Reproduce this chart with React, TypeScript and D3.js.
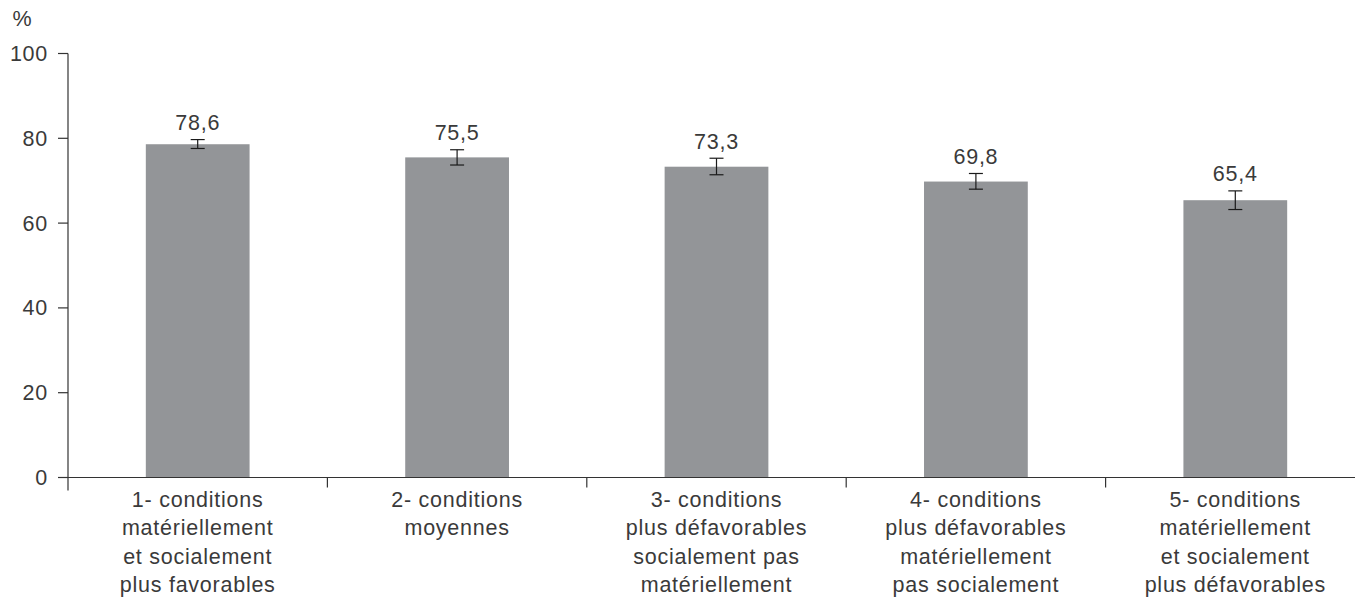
import React from "react";
import * as d3 from "d3";

const categories: string[][] = [
  ["1- conditions", "matériellement", "et socialement", "plus favorables"],
  ["2- conditions", "moyennes"],
  ["3- conditions", "plus défavorables", "socialement pas", "matériellement"],
  ["4- conditions", "plus défavorables", "matériellement", "pas socialement"],
  ["5- conditions", "matériellement", "et socialement", "plus défavorables"],
];
const values = [78.6, 75.5, 73.3, 69.8, 65.4];
const lowers = [77.6, 73.7, 71.4, 68.0, 63.2];
const uppers = [79.7, 77.3, 75.3, 71.7, 67.6];
const yTicks = [0, 20, 40, 60, 80, 100];

const W = 1355;
const H = 599;
const left = 68;
const top = 53.5;
const bottom = 477.5;
const right = 1365;
const font = "'Liberation Sans', Arial, sans-serif";
const textColor = "#3a3a3a";
const fs = 21.5;
const ls = 0.75;

export default function App() {
  const x = d3
    .scaleBand<number>()
    .domain(values.map((_, i) => i))
    .range([left, right])
    .paddingInner(0.6)
    .paddingOuter(0.3);
  const y = d3.scaleLinear().domain([0, 100]).range([bottom, top]);
  const step = x.step();
  const bw = x.bandwidth();
  const fmt = (v: number) => v.toFixed(1).replace(".", ",");

  return (
    <svg
      width={W}
      height={H}
      style={{ position: "absolute", left: 0, top: 0, background: "#fff" }}
      fontFamily={font}
    >
      <text x={22} y={26} fontSize={fs} fill={textColor} textAnchor="middle">
        %
      </text>
      {values.map((v, i) => {
        const x0 = x(i)!;
        const cx = x0 + bw / 2;
        return (
          <g key={i}>
            <rect x={x0} y={y(v)} width={bw} height={bottom - y(v)} fill="#939598" />
            <line x1={cx} x2={cx} y1={y(uppers[i])} y2={y(lowers[i])} stroke="#1a1a1a" strokeWidth={1.2} />
            <line x1={cx - 7} x2={cx + 7} y1={y(uppers[i])} y2={y(uppers[i])} stroke="#1a1a1a" strokeWidth={1.2} />
            <line x1={cx - 7} x2={cx + 7} y1={y(lowers[i])} y2={y(lowers[i])} stroke="#1a1a1a" strokeWidth={1.2} />
            <text x={cx} y={y(uppers[i]) - 9.5} fontSize={fs} letterSpacing={ls} fill={textColor} textAnchor="middle">
              {fmt(v)}
            </text>
            {categories[i].map((line, j) => (
              <text key={j} x={cx} y={507 + j * 28.3} fontSize={fs} letterSpacing={ls} fill={textColor} textAnchor="middle">
                {line}
              </text>
            ))}
          </g>
        );
      })}
      {/* y axis */}
      <line x1={left} x2={left} y1={top} y2={bottom + 13} stroke="#333" strokeWidth={1.2} />
      {yTicks.map((t) => (
        <g key={t}>
          <line x1={left - 10} x2={left} y1={y(t)} y2={y(t)} stroke="#333" strokeWidth={1.2} />
          <text x={left - 20} y={y(t) + 7.5} fontSize={fs} letterSpacing={ls} fill={textColor} textAnchor="end">
            {t}
          </text>
        </g>
      ))}
      {/* x axis */}
      <line x1={left} x2={W} y1={bottom} y2={bottom} stroke="#333" strokeWidth={1.2} />
      {values.map((_, i) =>
        i === 0 ? null : (
          <line
            key={i}
            x1={left + i * step}
            x2={left + i * step}
            y1={bottom}
            y2={bottom + 10}
            stroke="#333"
            strokeWidth={1.2}
          />
        )
      )}
    </svg>
  );
}
